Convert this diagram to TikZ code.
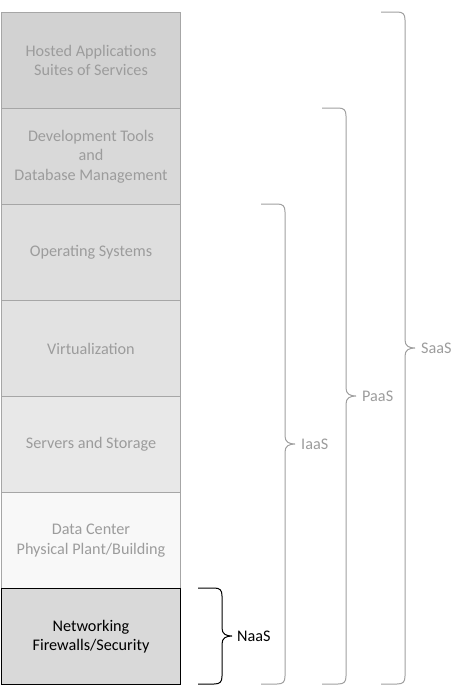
\documentclass[tikz,border=0pt]{standalone}
\usepackage{fontspec}
\setmainfont{Carlito}
\definecolor{edgegray}{HTML}{A6A6A6}
\definecolor{txtgray}{HTML}{9C9C9C}
\definecolor{fillA}{HTML}{D2D2D2}
\definecolor{fillB}{HTML}{D9D9D9}
\definecolor{fillC}{HTML}{DEDEDE}
\definecolor{fillD}{HTML}{E2E2E2}
\definecolor{fillE}{HTML}{E8E8E8}
\definecolor{fillF}{HTML}{F8F8F8}
\definecolor{fillG}{HTML}{D9D9D9}
\definecolor{bracegray}{HTML}{A0A0A0}
\tikzset{
  layer/.style={draw=edgegray, line width=1pt, minimum width=179pt, minimum height=96pt,
    inner sep=0pt, anchor=north west, align=center, text=txtgray,
    font=\fontsize{16.2}{19.5}\selectfont},
  bracelabel/.style={anchor=west, inner sep=0pt, font=\fontsize{16.2}{19}\selectfont},
  bracegraystyle/.style={draw=bracegray, line width=1pt},
  braceblackstyle/.style={draw=black, line width=1pt},
}
% #1 x0, #2 top, #3 mid, #4 bottom, #5 style, #6 tip name
\newcommand{\mycbrace}[6]{%
  \pgfmathsetmacro{\xv}{#1+24}%
  \pgfmathsetmacro{\xa}{\xv-8}%
  \pgfmathsetmacro{\xb}{\xv-2}%
  \pgfmathsetmacro{\xc}{\xv+4}%
  \pgfmathsetmacro{\xt}{\xv+10}%
  \pgfmathsetmacro{\ta}{#2+2}%
  \pgfmathsetmacro{\tb}{#2+8}%
  \pgfmathsetmacro{\ma}{#3-8}%
  \pgfmathsetmacro{\mb}{#3-2}%
  \pgfmathsetmacro{\mc}{#3+2}%
  \pgfmathsetmacro{\md}{#3+8}%
  \pgfmathsetmacro{\ba}{#4-8}%
  \pgfmathsetmacro{\bb}{#4-2}%
  \coordinate (#6) at (\xt,#3);
  \draw[#5] (#1,#2) -- (\xa,#2) .. controls (\xb,#2) and (\xv,\ta) .. (\xv,\tb)
    -- (\xv,\ma) .. controls (\xv,\mb) and (\xc,#3) .. (#6)
    .. controls (\xc,#3) and (\xv,\mc) .. (\xv,\md)
    -- (\xv,\ba) .. controls (\xv,\bb) and (\xb,#4) .. (\xa,#4) -- (#1,#4);
}
\begin{document}
\begin{tikzpicture}[x=1pt,y=-1pt]
\useasboundingbox (0,0) rectangle (462,696);
\node[layer, fill=fillA] (hosted) at (1,12) {Hosted Applications\\Suites of Services};
\node[layer, fill=fillB] (devtools) at (1,108) {Development Tools\\and\\Database Management};
\node[layer, fill=fillC] (os) at (1,204) {Operating Systems};
\node[layer, fill=fillD] (virt) at (1,300) {Virtualization};
\node[layer, fill=fillE] (servers) at (1,396) {Servers and Storage};
\node[layer, fill=fillF] (datacenter) at (1,492) {Data Center\\Physical Plant/Building};
\node[layer, fill=fillG, draw=black, text=black] (networking) at (1,588) {Networking\\Firewalls/Security};

\mycbrace{198}{588}{636}{684}{braceblackstyle}{naastip}
\node[bracelabel, text=black] (naas) at ([xshift=5pt]naastip) {NaaS};

\mycbrace{261}{204}{444}{684}{bracegraystyle}{iaastip}
\node[bracelabel, text=txtgray] (iaas) at ([xshift=6pt]iaastip) {IaaS};

\mycbrace{322}{108}{396}{684}{bracegraystyle}{paastip}
\node[bracelabel, text=txtgray] (paas) at ([xshift=6pt]paastip) {PaaS};

\mycbrace{381}{12}{348}{684}{bracegraystyle}{saastip}
\node[bracelabel, text=txtgray] (saas) at ([xshift=6pt]saastip) {SaaS};
\end{tikzpicture}
\end{document}
